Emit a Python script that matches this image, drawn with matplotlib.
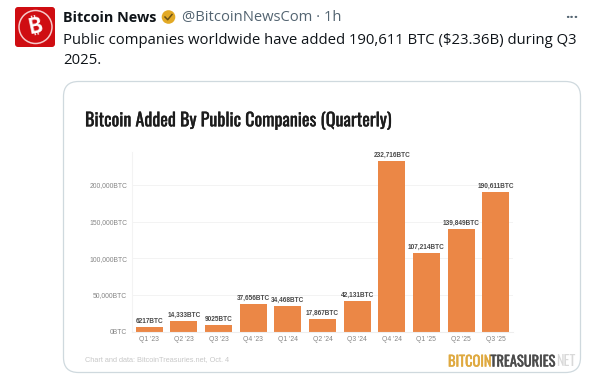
import matplotlib
matplotlib.use('Agg')
import matplotlib.pyplot as plt
import matplotlib.patheffects as pe
from matplotlib.patches import FancyBboxPatch, Circle

quarters = ["Q1 '23", "Q2 '23", "Q3 '23", "Q4 '23", "Q1 '24", "Q2 '24", "Q3 '24",
            "Q4 '24", "Q1 '25", "Q2 '25", "Q3 '25"]
btc_added = [6217, 14333, 9025, 37656, 34468, 17867, 42131, 232716, 107214, 139849, 190611]
bar_labels = ['6217BTC', '14,333BTC', '9025BTC', '37,656BTC', '34,468BTC', '17,867BTC',
              '42,131BTC', '232,716BTC', '107,214BTC', '139,849BTC', '190,611BTC']
y_ticks = [0, 50000, 100000, 150000, 200000]
y_labels = ['0BTC', '50,000BTC', '100,000BTC', '150,000BTC', '200,000BTC']

W, H = 597, 379
TWEET = ['Open Sans', 'DejaVu Sans']
NARROW = ['Oswald', 'Archivo Narrow', 'DejaVu Sans']
SMALL = ['Liberation Sans', 'DejaVu Sans']

fig = plt.figure(figsize=(W / 100, H / 100), dpi=100, facecolor='white')

# page layer, in pixels
bg = fig.add_axes([0, 0, 1, 1])
bg.set_xlim(0, W)
bg.set_ylim(H, 0)
bg.axis('off')

# avatar
bg.add_patch(FancyBboxPatch((17, 9), 36, 36, boxstyle='round,pad=2,rounding_size=3',
                            fc='#cf0d12', ec='none'))
bg.add_patch(Circle((35.5, 27), 16.5, fc='none', ec='#f6c9c9', lw=1.1))
bg.text(35.5, 27, '\u20bf', color='white', fontsize=15, fontweight='bold', rotation=12,
        ha='center', va='center', family=['Inter', 'Noto Sans', 'Roboto', 'Lato', 'DejaVu Sans'])

# tweet header
bg.text(63, 18, 'Bitcoin News', fontsize=10.4, fontweight='bold', color='#0f1419',
        family=TWEET, va='center')
bg.add_patch(Circle((168.5, 17), 6.8, fc='#e2a925', ec='none'))
bg.plot([165, 167.7, 172], [17, 19.7, 14.5], color='#6b5216', lw=1.1)
bg.text(182, 18, '@BitcoinNewsCom · 1h', fontsize=10.65, color='#536471',
        family=TWEET, va='center')
bg.text(578, 18, '···', fontsize=11, fontweight='bold', color='#536471',
        ha='right', va='center', family=TWEET)
bg.text(63, 40, 'Public companies worldwide have added 190,611 BTC ($23.36B) during Q3',
        fontsize=10.7, color='#0f1419', family=TWEET, va='center')
bg.text(63, 60.5, '2025.', fontsize=10.7, color='#0f1419', family=TWEET, va='center')

# card
bg.add_patch(FancyBboxPatch((79, 97), 486, 260, boxstyle='round,pad=15.5,rounding_size=15',
                            fc='white', ec='#cfd9de', lw=0.9))
bg.text(85, 121, 'Bitcoin Added By Public Companies (Quarterly)', fontsize=13,
        color='#1c1c1c', family=NARROW, va='center',
        path_effects=[pe.withStroke(linewidth=0.25, foreground='#1c1c1c')])
bg.text(85, 360, 'Chart and data: BitcoinTreasuries.net, Oct. 4', fontsize=5.3,
        color='#c8c8c8', va='center', family=SMALL)

# logo
bg.text(448, 362, 'BITCOIN', fontsize=10.4, color='#dfa93f', va='center', family=NARROW,
        path_effects=[pe.withStroke(linewidth=0.3, foreground='#dfa93f')])
bg.text(490.5, 362, 'TREASURIES', fontsize=10.4, color='#4b4b4b', va='center', family=NARROW,
        path_effects=[pe.withStroke(linewidth=0.3, foreground='#4b4b4b')])
bg.text(556, 362, 'NET', fontsize=10.4, color='#d9d9d9', va='center', family=NARROW)

# chart
x0, x1, y_top, y_zero = 132, 513, 152, 331.7
ax = fig.add_axes([x0 / W, 1 - y_zero / H, (x1 - x0) / W, (y_zero - y_top) / H])
ax.patch.set_alpha(0)
pos = list(range(len(quarters)))
ax.bar(pos, btc_added, width=0.78, color='#eb8746')
ax.set_xlim(-0.5, len(quarters) - 0.5)
ax.set_ylim(0, 50000 * (y_zero - y_top) / 36.7)
ax.set_xticks(pos, quarters, family=SMALL)
ax.set_yticks(y_ticks, y_labels, family=SMALL)
ax.tick_params(length=0, labelsize=4.9, labelcolor='#858585', pad=3.5)
ax.tick_params(axis='x', pad=3)
ax.grid(axis='y', color='#f3f3f3', lw=0.7)
ax.set_axisbelow(True)
for side in ['top', 'right']:
    ax.spines[side].set_visible(False)
ax.spines['left'].set_color('#f3f3f3')
ax.spines['bottom'].set_color('#eeeeee')
for p, v, s in zip(pos, btc_added, bar_labels):
    ax.annotate(s, (p, v), xytext=(0, 1.5), textcoords='offset points', ha='center', va='bottom',
                fontsize=4.7, fontweight='bold', color='#4a4a4a', family=SMALL)

fig.savefig('out.png', dpi=100)
